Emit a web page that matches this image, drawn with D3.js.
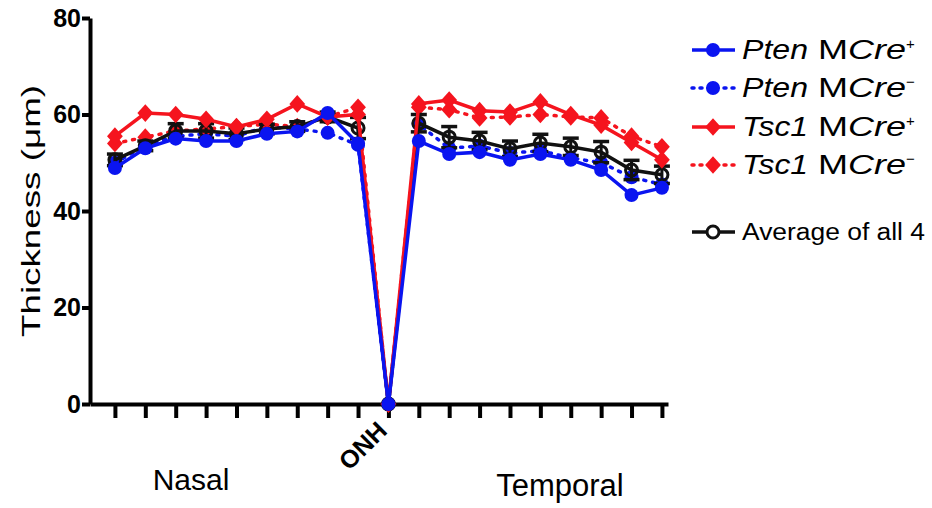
<!DOCTYPE html>
<html>
<head>
<meta charset="utf-8">
<script src="https://cdn.jsdelivr.net/npm/d3@7"></script>
<style>
  body { margin: 0; background: #fff; }
  svg { font-family: Helvetica, Arial, "Liberation Sans", sans-serif; }
</style>
</head>
<body>
<div id="chart"></div>
<script>
// positions: 9 nasal, ONH, 9 temporal
var positions = d3.range(19);
var onhIndex = 9;
var yTicks = [0, 20, 40, 60, 80];

var ptenPlus  = [48.9, 53.0, 55.0, 54.5, 54.5, 56.0, 56.5, 60.3, 54.0, 0, 54.5, 51.8, 52.2, 50.6, 51.8, 50.6, 48.5, 43.3, 44.8];
var ptenMinus = [50.0, 53.5, 55.5, 56.0, 55.5, 57.5, 57.0, 56.2, 53.7, 0, 58.0, 53.0, 53.5, 52.0, 52.5, 51.0, 50.0, 47.0, 45.5];
var tscPlus   = [55.5, 60.3, 60.0, 59.0, 57.4, 59.0, 62.2, 59.5, 60.0, 0, 62.2, 63.0, 60.8, 60.5, 62.6, 60.0, 57.8, 54.2, 50.6];
var tscMinus  = [54.0, 55.3, 56.6, 57.0, 57.5, 58.0, 57.5, 59.5, 61.5, 0, 61.5, 61.0, 59.3, 59.5, 60.0, 59.5, 59.3, 55.5, 53.3];
var average   = [50.6, 53.5, 56.6, 56.6, 56.0, 57.0, 57.5, 59.5, 57.2, 0, 58.2, 55.3, 54.5, 52.9, 54.1, 53.3, 52.2, 48.5, 47.5];
var averageErr = [1.2, 1.0, 1.5, 1.5, 1.2, 1.0, 1.0, 1.0, 2.2, 0, 1.8, 2.2, 1.8, 1.6, 1.8, 1.8, 2.2, 2.0, 1.8];

var width = 932, height = 508;
var svg = d3.select("#chart").append("svg")
    .attr("width", width)
    .attr("height", height);

var x = d3.scaleLinear().domain([-0.82, 18.2]).range([90, 668]);
var y = d3.scaleLinear().domain([0, 80]).range([404, 18]);

// axes
var yAxis = svg.append("g")
    .attr("transform", "translate(90,0)")
    .call(d3.axisLeft(y).tickValues(yTicks).tickSize(8).tickSizeOuter(0).tickPadding(1));
yAxis.select(".domain").attr("stroke-width", 4);
yAxis.selectAll(".tick line").attr("stroke-width", 4);
yAxis.selectAll(".tick text")
    .attr("font-size", 25).attr("font-weight", "bold").attr("fill", "#000")
    .attr("font-family", "Helvetica, Arial, 'Liberation Sans', sans-serif");

var xAxis = svg.append("g")
    .attr("transform", "translate(0,404)")
    .call(d3.axisBottom(x).tickValues(positions).tickSize(14).tickSizeOuter(0).tickFormat(""));
xAxis.select(".domain").attr("stroke-width", 4);
xAxis.selectAll(".tick line").attr("stroke-width", 4);

svg.append("text")
    .attr("transform", "translate(" + (x(onhIndex) - 6) + ",426) rotate(-45)")
    .attr("text-anchor", "end")
    .attr("font-size", 25).attr("font-weight", "bold")
    .attr("dy", "0.35em")
    .text("ONH");

svg.append("text").attr("x", 191).attr("y", 490)
    .attr("text-anchor", "middle").attr("font-size", 30).text("Nasal");
svg.append("text").attr("x", 560).attr("y", 496)
    .attr("text-anchor", "middle").attr("font-size", 31).text("Temporal");

svg.append("text")
    .attr("transform", "translate(40,211) rotate(-90)")
    .attr("text-anchor", "middle")
    .attr("font-size", 26)
    .attr("textLength", 252)
    .attr("lengthAdjust", "spacingAndGlyphs")
    .text("Thickness (μm)");

var line = d3.line().x(function (d, i) { return x(i); }).y(function (d) { return y(d); });
var square = d3.symbol().type(d3.symbolSquare).size(125);

function diamondAt(cx, cy) {
    return "translate(" + cx + "," + cy + ") scale(1,1.12) rotate(45)";
}

function drawSeries(values, color, dashed, marker) {
    var g = svg.append("g");
    g.append("path")
        .datum(values)
        .attr("d", line)
        .attr("fill", "none")
        .attr("stroke", color)
        .attr("stroke-width", 3.5)
        .attr("stroke-dasharray", dashed ? "2,7" : null)
        .attr("stroke-linecap", dashed ? "round" : "butt");
    if (marker === "circle") {
        g.selectAll("circle").data(values).enter().append("circle")
            .attr("cx", function (d, i) { return x(i); })
            .attr("cy", function (d) { return y(d); })
            .attr("r", 7)
            .attr("fill", color);
    } else {
        g.selectAll("path.m").data(values).enter().append("path")
            .attr("class", "m")
            .attr("d", square)
            .attr("transform", function (d, i) { return diamondAt(x(i), y(d)); })
            .attr("fill", color);
    }
}

var blue = "#0a14f0", red = "#f5141e";

drawSeries(ptenMinus, blue, true, "circle");
drawSeries(tscMinus, red, true, "diamond");

// average of all 4
var avgG = svg.append("g");
avgG.append("path").datum(average).attr("d", line)
    .attr("fill", "none").attr("stroke", "#111").attr("stroke-width", 3.5);
avgG.selectAll("g.err").data(average).enter().append("g")
    .attr("class", "err")
    .each(function (d, i) {
        if (i === onhIndex) return;
        var e = d3.select(this);
        var cx = x(i), top = y(d + averageErr[i]), bot = y(d - averageErr[i]);
        e.append("line").attr("x1", cx).attr("x2", cx).attr("y1", top).attr("y2", bot)
            .attr("stroke", "#111").attr("stroke-width", 3);
        e.append("line").attr("x1", cx - 8).attr("x2", cx + 8).attr("y1", top).attr("y2", top)
            .attr("stroke", "#111").attr("stroke-width", 3.5);
        e.append("line").attr("x1", cx - 8).attr("x2", cx + 8).attr("y1", bot).attr("y2", bot)
            .attr("stroke", "#111").attr("stroke-width", 3.5);
    });
avgG.selectAll("circle").data(average).enter().append("circle")
    .attr("cx", function (d, i) { return x(i); })
    .attr("cy", function (d) { return y(d); })
    .attr("r", 6)
    .attr("fill", "none")
    .attr("stroke", "#111").attr("stroke-width", 3);

drawSeries(tscPlus, red, false, "diamond");
drawSeries(ptenPlus, blue, false, "circle");

// legend
var legendItems = [
    { gene: "Pten", sup: "+", color: blue, dashed: false, marker: "circle", y: 50 },
    { gene: "Pten", sup: "\u2212", color: blue, dashed: true, marker: "circle", y: 88 },
    { gene: "Tsc1", sup: "+", color: red, dashed: false, marker: "diamond", y: 127 },
    { gene: "Tsc1", sup: "\u2212", color: red, dashed: true, marker: "diamond", y: 165 }
];
var legend = svg.append("g");
legendItems.forEach(function (it) {
    legend.append("line")
        .attr("x1", 692).attr("x2", 735).attr("y1", it.y).attr("y2", it.y)
        .attr("stroke", it.color).attr("stroke-width", 3.5)
        .attr("stroke-dasharray", it.dashed ? "2,6" : null)
        .attr("stroke-linecap", it.dashed ? "round" : "butt");
    if (it.marker === "circle") {
        legend.append("circle").attr("cx", 713).attr("cy", it.y).attr("r", 7).attr("fill", it.color);
    } else {
        legend.append("path").attr("d", square)
            .attr("transform", diamondAt(713, it.y))
            .attr("fill", it.color);
    }
    var t = legend.append("text").attr("x", 742).attr("y", it.y + 9).attr("font-size", 27);
    t.append("tspan").attr("font-style", "italic")
        .attr("textLength", 66).attr("lengthAdjust", "spacingAndGlyphs").text(it.gene);
    t.append("tspan").attr("textLength", 40).attr("lengthAdjust", "spacingAndGlyphs").text(" M");
    t.append("tspan").attr("font-style", "italic")
        .attr("textLength", 58).attr("lengthAdjust", "spacingAndGlyphs").text("Cre");
    t.append("tspan").attr("font-size", 15).attr("dy", "-10").text(it.sup);
});
legend.append("line")
    .attr("x1", 692).attr("x2", 735).attr("y1", 232).attr("y2", 232)
    .attr("stroke", "#111").attr("stroke-width", 3.5);
legend.append("circle").attr("cx", 713).attr("cy", 232).attr("r", 6)
    .attr("fill", "#fff").attr("stroke", "#111").attr("stroke-width", 3);
legend.append("text").attr("x", 742).attr("y", 240).attr("font-size", 23)
    .attr("textLength", 183).attr("lengthAdjust", "spacingAndGlyphs")
    .text("Average of all 4");
</script>
</body>
</html>
